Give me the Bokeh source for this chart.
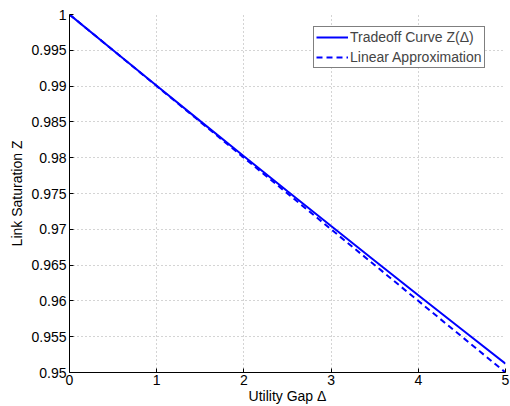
from bokeh.plotting import figure
from bokeh.models import FixedTicker, Range1d, Legend, LegendItem
from bokeh.embed import file_html
from bokeh.resources import INLINE

# Data
x_vals = [0, 0.5, 1, 1.5, 2, 2.5, 3, 3.5, 4, 4.5, 5]
tradeoff = [1.0, 0.99501, 0.99005, 0.98511, 0.98020, 0.97531, 0.97045, 0.96561, 0.96079, 0.95600, 0.95123]
linear_x = [0, 5]
linear_y = [1.0, 0.95]

x_ticks = [0, 1, 2, 3, 4, 5]
y_ticks = [0.95, 0.955, 0.96, 0.965, 0.97, 0.975, 0.98, 0.985, 0.99, 0.995, 1.0]
y_tick_labels = ["0.95", "0.955", "0.96", "0.965", "0.97", "0.975", "0.98", "0.985", "0.99", "0.995", "1"]

FONT = "Liberation Sans"
FS = "14px"

p = figure(width=510, height=406, output_backend="svg", toolbar_location=None,
           x_range=Range1d(0, 5), y_range=Range1d(0.95, 1.0),
           min_border_left=69, min_border_right=5, min_border_top=14, min_border_bottom=32)
p.outline_line_color = None
p.background_fill_color = "white"
p.border_fill_color = "white"

l1 = p.line(x_vals, tradeoff, line_color="#0000ff", line_width=2)
l2 = p.line(linear_x, linear_y, line_color="#0000ff", line_width=2, line_dash="6 4")

for ax in (p.xaxis[0], p.yaxis[0]):
    ax.major_tick_in = 4
    ax.major_tick_out = 0
    ax.minor_tick_line_color = None
    ax.axis_line_color = "black"
    ax.major_tick_line_color = "black"
    ax.major_label_text_font = FONT
    ax.major_label_text_font_size = FS
    ax.major_label_text_color = "black"
    ax.axis_label_text_font = FONT
    ax.axis_label_text_font_size = FS
    ax.axis_label_text_font_style = "normal"
    ax.axis_label_text_color = "black"

p.xaxis.ticker = FixedTicker(ticks=x_ticks)
p.yaxis.ticker = FixedTicker(ticks=y_ticks)
p.yaxis.major_label_overrides = {t: s for t, s in zip(y_ticks, y_tick_labels)}
p.xaxis.major_label_overrides = {t: str(t) for t in x_ticks}
p.xaxis.axis_label = "Utility Gap Δ"
p.yaxis.axis_label = "Link Saturation Z"
p.xaxis.major_label_standoff = 2
p.xaxis.axis_label_standoff = 0
p.yaxis.major_label_standoff = 3
p.yaxis.axis_label_standoff = 3

for g in (p.xgrid[0], p.ygrid[0]):
    g.grid_line_color = "#a8a8a8"
    g.grid_line_dash = "1 3"
    g.grid_line_width = 1

legend = Legend(items=[LegendItem(label="Tradeoff Curve Z(Δ)", renderers=[l1]),
                       LegendItem(label="Linear Approximation", renderers=[l2])],
                location=(244, 304))
legend.label_text_font = FONT
legend.label_text_font_size = FS
legend.border_line_color = "black"
legend.border_line_width = 1
legend.background_fill_color = "white"
legend.background_fill_alpha = 1
legend.padding = 2
legend.spacing = 4
legend.glyph_width = 32
legend.glyph_height = 16
legend.label_height = 16
legend.label_standoff = 2
legend.margin = 0
p.add_layout(legend, "center")

open("out.html", "w").write(file_html(p, INLINE))
